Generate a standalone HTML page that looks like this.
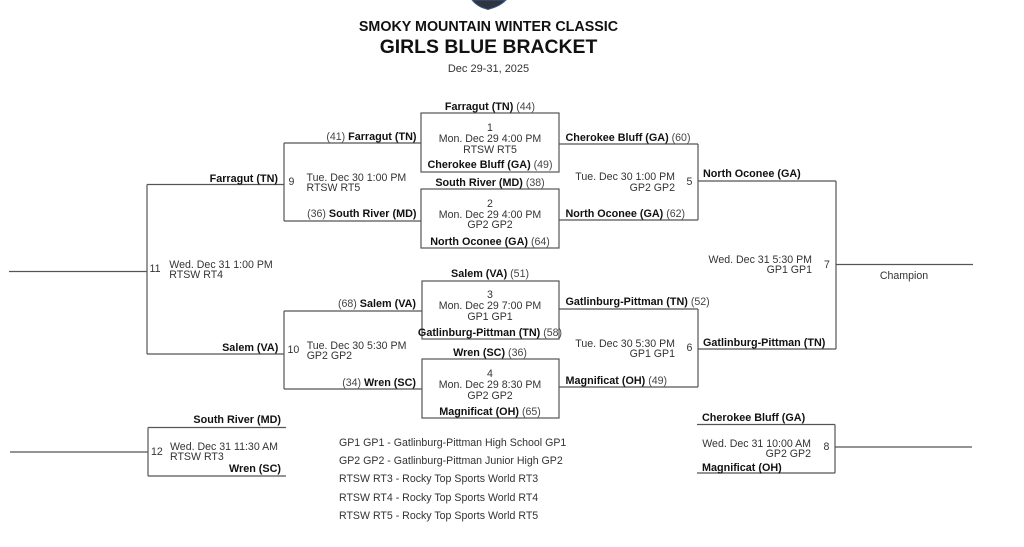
<!DOCTYPE html>
<html><head><meta charset="utf-8">
<style>
html,body{margin:0;padding:0;background:#fff;}
body{width:1024px;height:547px;position:relative;overflow:hidden;font-family:"Liberation Sans",Arial,sans-serif;color:#333;}
.t{position:absolute;font-size:10.6px;line-height:12px;height:12px;white-space:nowrap;color:#333;}
.b{font-weight:bold;font-size:10.8px;color:#111;}
.s{font-weight:normal;color:#444;}
.l{text-align:left;}
.r{text-align:right;}
.c{text-align:center;width:240px;}
svg{position:absolute;left:0;top:0;}
</style></head><body>
<svg width="1024" height="547" viewBox="0 0 1024 547">
  <path d="M472,0 Q476,5 482,7.5 L488,9.5 L494,7.5 Q501,5 506,0 Z" fill="#2f3441" stroke="#35598a" stroke-width="1"/>
  <g stroke="#555" stroke-width="1.2" fill="none">
    <line x1="9" y1="271.5" x2="147" y2="271.5"/>
    <line x1="147" y1="184.5" x2="147" y2="354"/>
    <line x1="147" y1="184.5" x2="284" y2="184.5"/>
    <line x1="147" y1="354" x2="284" y2="354"/>
    <line x1="284" y1="143" x2="284" y2="221"/>
    <line x1="284" y1="143" x2="421" y2="143"/>
    <line x1="284" y1="221" x2="421" y2="221"/>
    <line x1="284" y1="311" x2="284" y2="389"/>
    <line x1="284" y1="311" x2="422" y2="311"/>
    <line x1="284" y1="389" x2="422" y2="389"/>
    <rect x="421" y="113" width="138" height="59"/>
    <rect x="421" y="189" width="138" height="59"/>
    <rect x="422" y="281" width="137" height="58"/>
    <rect x="422" y="359" width="137" height="59"/>
    <line x1="559" y1="144" x2="698" y2="144"/>
    <line x1="559" y1="220" x2="698" y2="220"/>
    <line x1="698" y1="144" x2="698" y2="220"/>
    <line x1="559" y1="309" x2="698" y2="309"/>
    <line x1="559" y1="387" x2="698" y2="387"/>
    <line x1="698" y1="309" x2="698" y2="387"/>
    <line x1="698" y1="181" x2="836" y2="181"/>
    <line x1="698" y1="349" x2="836" y2="349"/>
    <line x1="836" y1="181" x2="836" y2="349"/>
    <line x1="836" y1="264.5" x2="973" y2="264.5"/>
    <line x1="697" y1="424.5" x2="835" y2="424.5"/>
    <line x1="697" y1="473" x2="835" y2="473"/>
    <line x1="835" y1="424.5" x2="835" y2="473"/>
    <line x1="835" y1="447" x2="972" y2="447"/>
    <line x1="148" y1="427.5" x2="286" y2="427.5"/>
    <line x1="148" y1="476" x2="286" y2="476"/>
    <line x1="148" y1="427.5" x2="148" y2="476"/>
    <line x1="10" y1="452" x2="148" y2="452"/>
  </g>
</svg>

<div class="t c b" style="left:338.5px;top:18px;width:300px;font-size:14.3px;line-height:18px;height:18px;">SMOKY MOUNTAIN WINTER CLASSIC</div>
<div class="t c b" style="left:338.5px;top:35px;width:300px;font-size:19.4px;line-height:24px;height:24px;">GIRLS BLUE BRACKET</div>
<div class="t c" style="left:368.5px;top:63px;font-size:11px;">Dec 29-31, 2025</div>

<div class="t c" style="left:370px;top:101px;"><span class="b">Farragut (TN)</span> <span class="s">(44)</span></div>
<div class="t c" style="left:370px;top:122px;">1</div>
<div class="t c" style="left:370px;top:133px;">Mon. Dec 29 4:00 PM</div>
<div class="t c" style="left:370px;top:143.5px;">RTSW RT5</div>
<div class="t c" style="left:370px;top:159px;"><span class="b">Cherokee Bluff (GA)</span> <span class="s">(49)</span></div>
<div class="t c" style="left:370px;top:177px;"><span class="b">South River (MD)</span> <span class="s">(38)</span></div>
<div class="t c" style="left:370px;top:198px;">2</div>
<div class="t c" style="left:370px;top:208.5px;">Mon. Dec 29 4:00 PM</div>
<div class="t c" style="left:370px;top:218.5px;">GP2 GP2</div>
<div class="t c" style="left:370px;top:235.5px;"><span class="b">North Oconee (GA)</span> <span class="s">(64)</span></div>
<div class="t c" style="left:370px;top:268px;"><span class="b">Salem (VA)</span> <span class="s">(51)</span></div>
<div class="t c" style="left:370px;top:289px;">3</div>
<div class="t c" style="left:370px;top:300px;">Mon. Dec 29 7:00 PM</div>
<div class="t c" style="left:370px;top:310.5px;">GP1 GP1</div>
<div class="t c" style="left:370px;top:326.5px;"><span class="b">Gatlinburg-Pittman (TN)</span> <span class="s">(58)</span></div>
<div class="t c" style="left:370px;top:346.5px;"><span class="b">Wren (SC)</span> <span class="s">(36)</span></div>
<div class="t c" style="left:370px;top:368px;">4</div>
<div class="t c" style="left:370px;top:379px;">Mon. Dec 29 8:30 PM</div>
<div class="t c" style="left:370px;top:389.5px;">GP2 GP2</div>
<div class="t c" style="left:370px;top:406px;"><span class="b">Magnificat (OH)</span> <span class="s">(65)</span></div>

<div class="t l" style="left:565.5px;top:131.5px;"><span class="b">Cherokee Bluff (GA)</span> <span class="s">(60)</span></div>
<div class="t l" style="left:565.5px;top:208px;"><span class="b">North Oconee (GA)</span> <span class="s">(62)</span></div>
<div class="t r" style="right:349px;top:171px;">Tue. Dec 30 1:00 PM</div>
<div class="t r" style="right:349px;top:181.5px;">GP2 GP2</div>
<div class="t" style="left:686.5px;top:176px;">5</div>

<div class="t l" style="left:565.5px;top:296px;"><span class="b">Gatlinburg-Pittman (TN)</span> <span class="s">(52)</span></div>
<div class="t l" style="left:565.5px;top:375px;"><span class="b">Magnificat (OH)</span> <span class="s">(49)</span></div>
<div class="t r" style="right:349px;top:337.5px;">Tue. Dec 30 5:30 PM</div>
<div class="t r" style="right:349px;top:347.7px;">GP1 GP1</div>
<div class="t" style="left:686.5px;top:342px;">6</div>

<div class="t l b" style="left:703px;top:167.5px;">North Oconee (GA)</div>
<div class="t l b" style="left:703px;top:336.7px;">Gatlinburg-Pittman (TN)</div>
<div class="t r" style="right:212px;top:254px;">Wed. Dec 31 5:30 PM</div>
<div class="t r" style="right:212px;top:264px;">GP1 GP1</div>
<div class="t" style="left:824px;top:258.7px;">7</div>
<div class="t c" style="left:784px;top:270px;">Champion</div>

<div class="t l b" style="left:702px;top:412px;">Cherokee Bluff (GA)</div>
<div class="t l b" style="left:702px;top:462px;">Magnificat (OH)</div>
<div class="t r" style="right:213px;top:438px;">Wed. Dec 31 10:00 AM</div>
<div class="t r" style="right:213px;top:448px;">GP2 GP2</div>
<div class="t" style="left:823.5px;top:441px;">8</div>

<div class="t r" style="right:607.5px;top:131.3px;"><span class="s">(41)</span> <span class="b">Farragut (TN)</span></div>
<div class="t r" style="right:607.5px;top:208.3px;"><span class="s">(36)</span> <span class="b">South River (MD)</span></div>
<div class="t" style="left:288.5px;top:176px;">9</div>
<div class="t l" style="left:306.5px;top:171.7px;">Tue. Dec 30 1:00 PM</div>
<div class="t l" style="left:306.5px;top:181.7px;">RTSW RT5</div>

<div class="t r" style="right:608px;top:298.3px;"><span class="s">(68)</span> <span class="b">Salem (VA)</span></div>
<div class="t r" style="right:608px;top:376.7px;"><span class="s">(34)</span> <span class="b">Wren (SC)</span></div>
<div class="t" style="left:287.5px;top:344px;">10</div>
<div class="t l" style="left:306.7px;top:340px;">Tue. Dec 30 5:30 PM</div>
<div class="t l" style="left:306.7px;top:349.5px;">GP2 GP2</div>

<div class="t r b" style="right:746px;top:173px;">Farragut (TN)</div>
<div class="t r b" style="right:745.7px;top:341.7px;">Salem (VA)</div>
<div class="t" style="left:149.5px;top:263.3px;">11</div>
<div class="t l" style="left:169.3px;top:259px;">Wed. Dec 31 1:00 PM</div>
<div class="t l" style="left:169.3px;top:269px;">RTSW RT4</div>

<div class="t r b" style="right:743px;top:414px;">South River (MD)</div>
<div class="t r b" style="right:743px;top:463px;">Wren (SC)</div>
<div class="t" style="left:151px;top:445.5px;">12</div>
<div class="t l" style="left:170px;top:440.5px;">Wed. Dec 31 11:30 AM</div>
<div class="t l" style="left:170px;top:450.5px;">RTSW RT3</div>

<div class="t l" style="left:339px;top:436.7px;">GP1 GP1 - Gatlinburg-Pittman High School GP1</div>
<div class="t l" style="left:339px;top:455px;">GP2 GP2 - Gatlinburg-Pittman Junior High GP2</div>
<div class="t l" style="left:339px;top:473.3px;">RTSW RT3 - Rocky Top Sports World RT3</div>
<div class="t l" style="left:339px;top:491.7px;">RTSW RT4 - Rocky Top Sports World RT4</div>
<div class="t l" style="left:339px;top:510px;">RTSW RT5 - Rocky Top Sports World RT5</div>
</body></html>
